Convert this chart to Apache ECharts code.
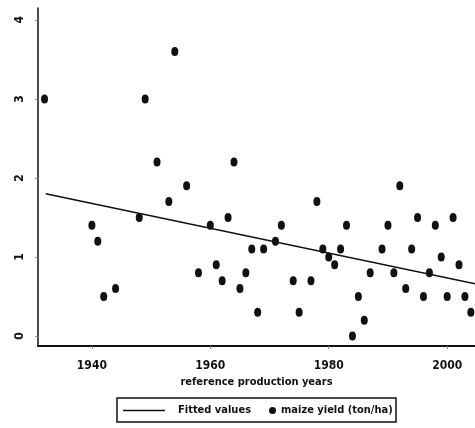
<!DOCTYPE html>
<html>
<head>
<meta charset="utf-8">
<script src="https://cdn.jsdelivr.net/npm/echarts@6/dist/echarts.min.js"></script>
<style>
  html, body { margin: 0; padding: 0; background: #fff; }
  #chart { width: 475px; height: 428px; }
</style>
</head>
<body>
<div id="chart"></div>
<script>
  const years = [1932, 1940, 1941, 1942, 1944, 1948, 1949, 1951, 1953, 1954,
    1956, 1958, 1960, 1961, 1962, 1963, 1964, 1965, 1966, 1967,
    1968, 1969, 1971, 1972, 1974, 1975, 1977, 1978, 1979, 1980,
    1981, 1982, 1983, 1984, 1985, 1986, 1987, 1989, 1990, 1991,
    1992, 1993, 1994, 1995, 1996, 1997, 1998, 1999, 2000, 2001,
    2002, 2003, 2004]
  const yields = [3.0, 1.4, 1.2, 0.5, 0.6, 1.5, 3.0, 2.2, 1.7, 3.6,
    1.9, 0.8, 1.4, 0.9, 0.7, 1.5, 2.2, 0.6, 0.8, 1.1,
    0.3, 1.1, 1.2, 1.4, 0.7, 0.3, 0.7, 1.7, 1.1, 1.0,
    0.9, 1.1, 1.4, 0.0, 0.5, 0.2, 0.8, 1.1, 1.4, 0.8,
    1.9, 0.6, 1.1, 1.5, 0.5, 0.8, 1.4, 1.0, 0.5, 1.5,
    0.9, 0.5, 0.3]
  // fitted line end points
  const fitYears = [1932.2, 2004.7]
  const fitValues = [1.8, 0.66]
  const xTicks = [1940, 1960, 1980, 2000]
  const yTicks = [0, 1, 2, 3, 4]

  const font = '"Liberation Sans Narrow", "DejaVu Sans Condensed", sans-serif'
  const ink = '#111'

  const chart = echarts.init(document.getElementById('chart'))

  const option = {
    animation: false,
    grid: { left: 38, right: 0, top: 8, bottom: 82 },
    xAxis: {
      type: 'value',
      min: 1930.9,
      max: 2004.7,
      axisLine: { onZero: false, lineStyle: { color: ink, width: 2 } },
      axisTick: { customValues: xTicks, length: 3, lineStyle: { color: '#888' } },
      axisLabel: {
        customValues: xTicks,
        formatter: (v) => String(v),
        margin: 14,
        fontSize: 12,
        fontWeight: 'bold',
        fontFamily: font,
        color: ink,
      },
      splitLine: { show: false },
      name: 'reference production years',
      nameLocation: 'middle',
      nameGap: 31,
      nameTextStyle: { fontSize: 11, fontWeight: 'bold', fontFamily: font, color: ink },
    },
    yAxis: {
      type: 'value',
      min: -0.127,
      max: 4.15,
      axisLine: { show: true, onZero: false, lineStyle: { color: ink, width: 1.5 } },
      axisTick: { show: true, customValues: yTicks, length: 3, lineStyle: { color: '#888' } },
      axisLabel: {
        customValues: yTicks,
        rotate: 90,
        margin: 12,
        fontSize: 12,
        fontWeight: 'bold',
        fontFamily: font,
        color: ink,
      },
      splitLine: { show: false },
    },
    legend: [
      {
        data: [{ name: 'Fitted values', icon: 'rect', itemStyle: { color: ink } }],
        left: 123,
        top: 405,
        padding: 0,
        itemWidth: 42,
        itemHeight: 1.6,
        textStyle: { fontSize: 11, fontWeight: 'bold', fontFamily: font, color: ink, padding: [0, 0, 0, 8] },
      },
      {
        data: ['maize yield (ton/ha)'],
        left: 269,
        top: 405,
        padding: 0,
        itemWidth: 7,
        itemHeight: 9,
        textStyle: { fontSize: 11, fontWeight: 'bold', fontFamily: font, color: ink },
      },
    ],
    graphic: [
      {
        type: 'rect',
        shape: { x: 117, y: 398, width: 279, height: 24 },
        style: { fill: 'none', stroke: ink, lineWidth: 1.5 },
      },
    ],
    series: [
      {
        name: 'Fitted values',
        type: 'line',
        data: fitYears.map((y, i) => [y, fitValues[i]]),
        symbol: 'none',
        lineStyle: { color: ink, width: 1.6 },
        itemStyle: { color: ink },
      },
      {
        name: 'maize yield (ton/ha)',
        type: 'scatter',
        data: years.map((y, i) => [y, yields[i]]),
        symbolSize: [7, 9],
        itemStyle: { color: ink, opacity: 1 },
      },
    ],
  }

  chart.setOption(option)
</script>
</body>
</html>
